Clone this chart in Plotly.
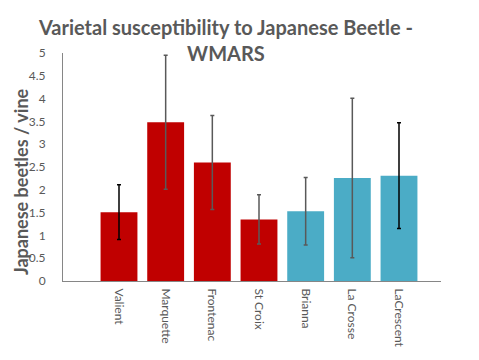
import plotly.graph_objects as go

categories = ["Valient", "Marquette", "Frontenac", "St Croix", "Brianna", "La Crosse", "LaCrescent"]
means = [1.51, 3.48, 2.60, 1.35, 1.53, 2.26, 2.31]
errors = [0.60, 1.47, 1.03, 0.54, 0.74, 1.75, 1.16]
bar_colors = ["#C00000", "#C00000", "#C00000", "#C00000", "#4BACC6", "#4BACC6", "#4BACC6"]
err_colors = ["#000000", "#595959", "#595959", "#595959", "#595959", "#595959", "#000000"]
y_ticks = [0, 0.5, 1, 1.5, 2, 2.5, 3, 3.5, 4, 4.5, 5]
y_ticktext = ["0", "0.5", "1", "1.5", "2", "2.5", "3", "3.5", "4", "4.5", "5"]
title_text = "Varietal susceptibility to Japanese Beetle -<br>WMARS"
y_title = "Japanese beetles / vine"

fig = go.Figure()
for c, m, e, bc, ec in zip(categories, means, errors, bar_colors, err_colors):
    fig.add_trace(go.Bar(
        x=[c], y=[m],
        marker=dict(color=bc, line=dict(width=0)),
        error_y=dict(type="data", array=[e], visible=True, color=ec, thickness=1.5, width=2),
        width=0.79,
        showlegend=False,
    ))

font_family = "Lato, Open Sans, sans-serif"
fig.update_layout(
    width=479, height=360,
    margin=dict(l=55, r=46, t=45, b=87),
    paper_bgcolor="white", plot_bgcolor="white",
    barmode="overlay",
    title=dict(
        text=title_text,
        x=0.455, xanchor="center", y=0.925, yanchor="top",
        font=dict(family=font_family, size=20, color="#595959", weight="bold"),
    ),
    font=dict(family=font_family, color="#595959"),
    annotations=[dict(
        text=y_title, textangle=-90,
        xref="paper", yref="paper", x=0, y=0.5,
        xanchor="center", yanchor="middle",
        xshift=-42, yshift=-15, showarrow=False,
        font=dict(family=font_family, size=18, color="#595959", weight="bold"),
    )],
)
fig.update_xaxes(
    type="category", categoryorder="array", categoryarray=categories,
    range=[-1.2, 6.9], automargin=False,
    showline=True, linecolor="#868686", linewidth=1,
    showgrid=False, ticks="", tickangle=90, ticklabelstandoff=4,
    tickfont=dict(family=font_family, size=12, color="#595959"),
)
fig.update_yaxes(
    range=[0, 5], tickvals=y_ticks, ticktext=y_ticktext, automargin=False,
    showline=True, linecolor="#868686", linewidth=1,
    showgrid=False, zeroline=False, ticks="",
    ticklabelstandoff=14,
    tickfont=dict(family=font_family, size=12, color="#595959"),
)
fig.write_html("out.html")
